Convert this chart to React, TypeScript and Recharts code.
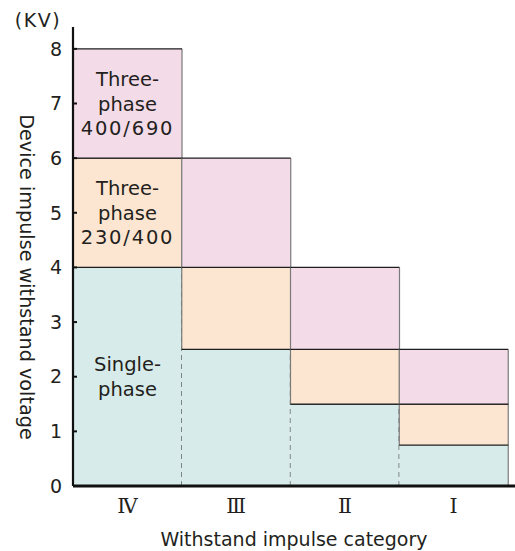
import { Bar, BarChart, Label, XAxis, YAxis } from "recharts";

// withstand voltage (kV), per overvoltage category
const categories = ["Ⅳ", "Ⅲ", "Ⅱ", "Ⅰ"];
const singlePhaseKV = [4, 2.5, 1.5, 0.75];
const threePhase230KV = [6, 4, 2.5, 1.5];
const threePhase400KV = [8, 6, 4, 2.5];
const yTicks = [0, 1, 2, 3, 4, 5, 6, 7, 8];

const singleText = ["Single-", "phase"];
const tp230Text = ["Three-", "phase", "230/400"];
const tp400Text = ["Three-", "phase", "400/690"];

const COLORS = {
  single: "#d7ebea",
  tp230: "#fde6d1",
  tp400: "#f3dbe8",
};
const TEXT = "#231f20";
const EDGE_H = "#1e1e1e";
const EDGE_V = "#7a7a7a";
const FONT = "'DejaVu Sans', sans-serif";
const SERIF = "'DejaVu Serif', 'Noto Sans CJK JP', serif";

// stacked segments are the differences between the levels
const data = categories.map((name, i) => ({
  name,
  single: singlePhaseKV[i],
  tp230: threePhase230KV[i] - singlePhaseKV[i],
  tp400: threePhase400KV[i] - threePhase230KV[i],
}));

function SegmentText({ lines, cx, cy }: { lines: string[]; cx: number; cy: number }) {
  const lh = 24.5;
  const y0 = cy - ((lines.length - 1) * lh) / 2;
  return (
    <text textAnchor="middle" fontSize={19.5} fill={TEXT} fontFamily={FONT} dominantBaseline="central">
      {lines.map((l, k) => (
        <tspan key={k} x={cx} y={y0 + k * lh} letterSpacing={/\d/.test(l) ? 1.8 : 0}>
          {l}
        </tspan>
      ))}
    </text>
  );
}

function SingleShape(props: any) {
  const { x, y, width, height, index, fill } = props;
  const last = index === categories.length - 1;
  const right = x + width;
  const bottom = y + height;
  return (
    <g>
      <rect x={x} y={y} width={width} height={height} fill={fill} />
      <line x1={x} x2={right} y1={y} y2={y} stroke={EDGE_H} strokeWidth={1.2} />
      <line
        x1={right}
        x2={right}
        y1={bottom}
        y2={y}
        stroke={last ? EDGE_V : "#555"}
        strokeWidth={last ? 1.2 : 1.8}
        strokeDasharray={last ? undefined : "5 4"}
      />
      {index === 0 && <SegmentText lines={singleText} cx={x + width / 2} cy={y + height / 2} />}
    </g>
  );
}

function makeSegmentShape(lines: string[]) {
  return (props: any) => {
    const { x, y, width, height, index, fill } = props;
    const right = x + width;
    const bottom = y + height;
    return (
      <g>
        <rect x={x} y={y} width={width} height={height} fill={fill} />
        <line x1={x} x2={x} y1={y} y2={bottom} stroke={EDGE_V} strokeWidth={1.2} />
        <line x1={right} x2={right} y1={y} y2={bottom} stroke={EDGE_V} strokeWidth={1.2} />
        <line x1={x} x2={right} y1={y} y2={y} stroke={EDGE_H} strokeWidth={1.2} />
        <line x1={x} x2={right} y1={bottom} y2={bottom} stroke={EDGE_H} strokeWidth={1.2} />
        {index === 0 && <SegmentText lines={lines} cx={x + width / 2} cy={y + height / 2} />}
      </g>
    );
  };
}

const Tp230Shape = makeSegmentShape(tp230Text);
const Tp400Shape = makeSegmentShape(tp400Text);

export default function App() {
  return (
    <div style={{ position: "absolute", left: 0, top: 0, width: 515, height: 551, background: "#fff" }}>
      <BarChart
        width={515}
        height={551}
        data={data}
        margin={{ top: 27, right: 0, bottom: 0, left: 0 }}
        barCategoryGap={0}
        barGap={0}
      >
        <Bar dataKey="single" stackId="kv" fill={COLORS.single} shape={SingleShape} isAnimationActive={false} />
        <Bar dataKey="tp230" stackId="kv" fill={COLORS.tp230} shape={Tp230Shape} isAnimationActive={false} />
        <Bar dataKey="tp400" stackId="kv" fill={COLORS.tp400} shape={Tp400Shape} isAnimationActive={false} />
        <XAxis
          dataKey="name"
          height={65}
          padding={{ left: 0, right: 7 }}
          tickLine={false}
          axisLine={{ stroke: "#111", strokeWidth: 3 }}
          tick={{ fill: TEXT, fontSize: 20.5, fontFamily: SERIF, fontWeight: 500 }}
          tickMargin={6}
        >
          <Label
            value="Withstand impulse category"
            position="insideBottom"
            offset={5}
            style={{ fill: TEXT, fontSize: 19, fontFamily: FONT }}
          />
        </XAxis>
        <YAxis
          type="number"
          domain={[0, 8.4]}
          ticks={yTicks}
          interval={0}
          allowDataOverflow
          width={73}
          tickSize={-4}
          tickMargin={15}
          axisLine={{ stroke: "#111", strokeWidth: 2.2 }}
          tickLine={{ stroke: "#111", strokeWidth: 2 }}
          tick={{ fill: TEXT, fontSize: 19, fontFamily: FONT }}
        >
          <Label
            content={() => (
              <text
                x={26}
                y={277}
                transform="rotate(90, 26, 277)"
                textAnchor="middle"
                dominantBaseline="central"
                fill={TEXT}
                fontSize={19.2}
                fontFamily={FONT}
              >
                Device impulse withstand voltage
              </text>
            )}
          />
          <Label
            content={() => (
              <text
                x={38}
                y={20}
                textAnchor="middle"
                dominantBaseline="central"
                fill={TEXT}
                fontSize={19}
                letterSpacing={1.5}
                fontFamily={FONT}
              >
                (KV)
              </text>
            )}
          />
        </YAxis>
      </BarChart>
    </div>
  );
}
